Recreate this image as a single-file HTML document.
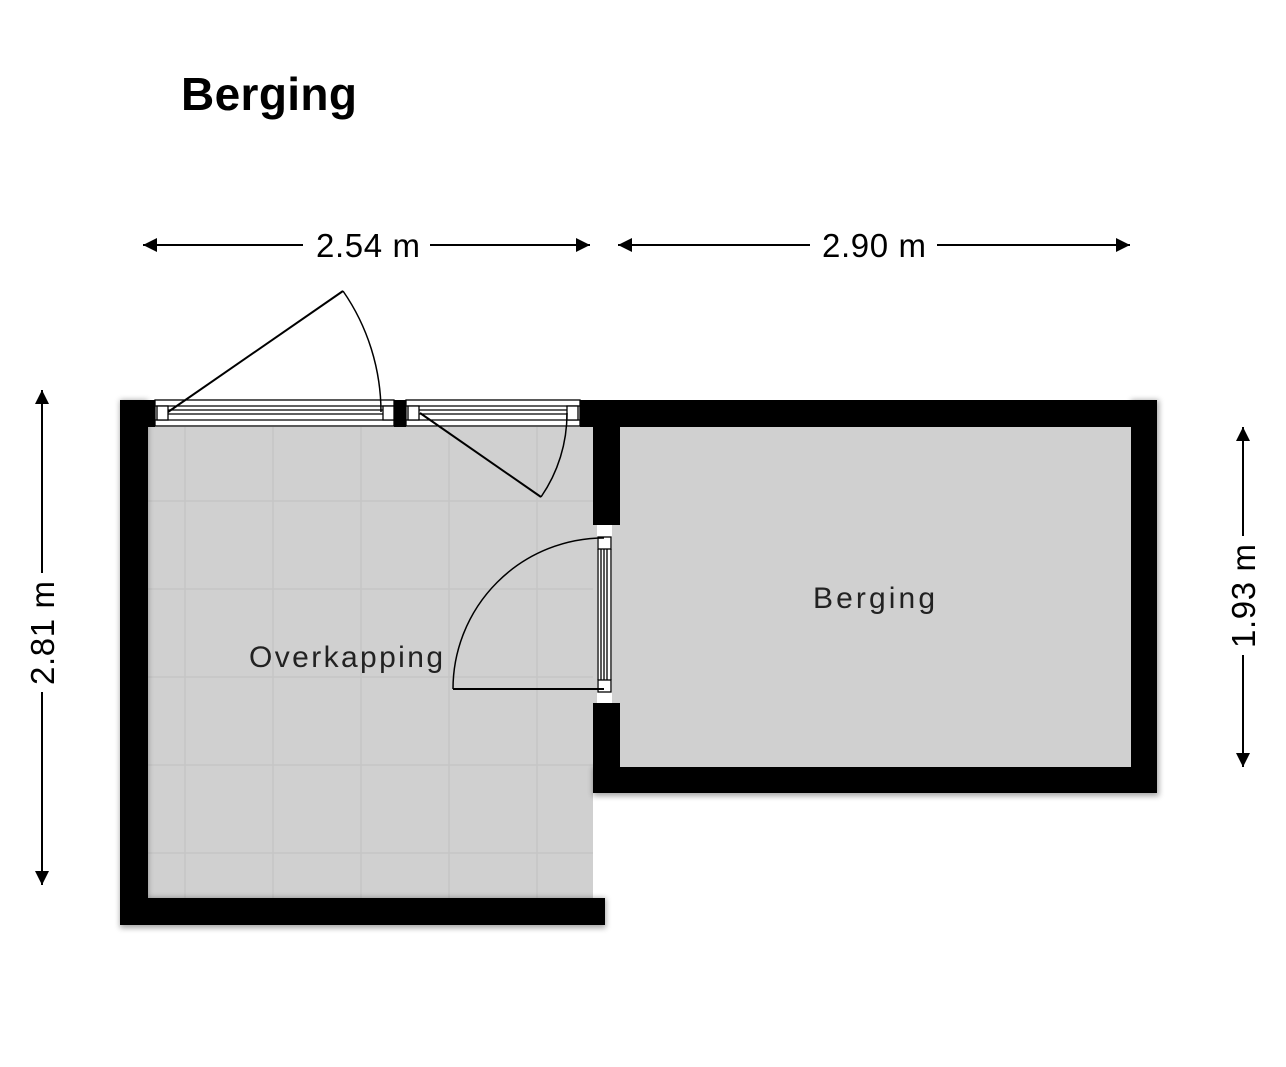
<!DOCTYPE html>
<html><head><meta charset="utf-8"><style>html,body{margin:0;padding:0;background:#fff}svg{display:block}</style></head>
<body>
<svg width="1286" height="1067" viewBox="0 0 1286 1067" xmlns="http://www.w3.org/2000/svg" font-family="Liberation Sans, sans-serif">
<defs>
<marker id="a" viewBox="0 0 10 10" refX="10" refY="5" markerWidth="9" markerHeight="7" orient="auto-start-reverse"><path d="M0,0 L10,5 L0,10z" fill="#000"/></marker>
<filter id="sh" x="-5%" y="-5%" width="110%" height="110%"><feGaussianBlur stdDeviation="3"/></filter>
</defs>
<rect width="1286" height="1067" fill="#fff"/>
<text x="181" y="110" font-size="46" font-weight="bold" textLength="176">Berging</text>

<g stroke="#000" stroke-width="2">
<line x1="143" y1="245" x2="303" y2="245" marker-start="url(#a)"/>
<line x1="430" y1="245" x2="590" y2="245" marker-end="url(#a)"/>
<line x1="618" y1="245" x2="810" y2="245" marker-start="url(#a)"/>
<line x1="937" y1="245" x2="1130" y2="245" marker-end="url(#a)"/>
<line x1="42" y1="390" x2="42" y2="573" marker-start="url(#a)"/>
<line x1="42" y1="692" x2="42" y2="885" marker-end="url(#a)"/>
<line x1="1243" y1="427" x2="1243" y2="536" marker-start="url(#a)"/>
<line x1="1243" y1="655" x2="1243" y2="767" marker-end="url(#a)"/>
</g>
<g font-size="33" fill="#000">
<text x="368" y="257" text-anchor="middle" textLength="104">2.54 m</text>
<text x="874" y="257" text-anchor="middle" textLength="104">2.90 m</text>
<text transform="translate(54,633) rotate(-90)" text-anchor="middle" textLength="104">2.81 m</text>
<text transform="translate(1255,596) rotate(-90)" text-anchor="middle" textLength="104">1.93 m</text>
</g>

<rect x="148" y="427" width="445" height="471" fill="#d0d0d0"/>
<g stroke="#c6c6c6" stroke-width="1.5" fill="none">
<line x1="185" y1="427" x2="185" y2="898"/><line x1="273" y1="427" x2="273" y2="898"/>
<line x1="361" y1="427" x2="361" y2="898"/><line x1="449" y1="427" x2="449" y2="898"/>
<line x1="537" y1="427" x2="537" y2="898"/>
<line x1="148" y1="501" x2="593" y2="501"/><line x1="148" y1="589" x2="593" y2="589"/>
<line x1="148" y1="677" x2="593" y2="677"/><line x1="148" y1="765" x2="593" y2="765"/>
<line x1="148" y1="853" x2="593" y2="853"/>
</g>

<g filter="url(#sh)" opacity="0.35" fill="#000">
<rect x="120" y="400" width="28" height="528"/><rect x="120" y="898" width="486" height="30"/>
<rect x="593" y="767" width="566" height="29"/><rect x="1131" y="400" width="28" height="396"/>
</g>
<rect x="612" y="427" width="519" height="340" fill="#d0d0d0"/>
<rect x="593" y="525" width="4" height="178" fill="#d0d0d0"/>
<g fill="#000">
<rect x="120" y="400" width="28" height="525"/>
<rect x="120" y="898" width="485" height="27"/>
<rect x="120" y="400" width="35" height="27"/>
<rect x="394" y="400" width="12" height="27"/>
<rect x="580" y="400" width="577" height="27"/>
<rect x="593" y="400" width="27" height="125"/>
<rect x="593" y="703" width="27" height="90"/>
<rect x="593" y="767" width="564" height="26"/>
<rect x="1131" y="400" width="26" height="393"/>
</g>
<g stroke="#000" stroke-width="1.3" fill="#fff">
<rect x="155" y="400" width="239" height="26"/>
<rect x="406" y="400" width="174" height="26"/>
<line x1="155" y1="406" x2="394" y2="406"/><line x1="155" y1="420" x2="394" y2="420"/>
<line x1="406" y1="406" x2="580" y2="406"/><line x1="406" y1="420" x2="580" y2="420"/>
<line x1="168" y1="410" x2="383" y2="410"/><line x1="168" y1="414" x2="383" y2="414"/>
<line x1="419" y1="410" x2="567" y2="410"/><line x1="419" y1="414" x2="567" y2="414"/>
<rect x="157" y="406" width="11" height="14"/><rect x="383" y="406" width="11" height="14"/>
<rect x="408" y="406" width="11" height="14"/><rect x="567" y="406" width="11" height="14"/>
<rect x="597" y="525" width="15" height="178" stroke="none"/>
<rect x="598" y="537" width="13" height="12"/><rect x="598" y="680" width="13" height="12"/>
<line x1="598" y1="549" x2="598" y2="680"/><line x1="601" y1="549" x2="601" y2="680"/><line x1="604" y1="549" x2="604" y2="680"/><line x1="607" y1="549" x2="607" y2="680"/><line x1="611" y1="549" x2="611" y2="680"/>
</g>
<g stroke="#000" stroke-width="2" fill="none">
<line x1="168" y1="412" x2="343" y2="291"/>
<path d="M343,291 A213,213 0 0 1 381,412" stroke-width="1.5"/>
<line x1="420" y1="413" x2="541" y2="497"/>
<path d="M541,497 A147,147 0 0 0 567,413" stroke-width="1.5"/>
<line x1="453" y1="689" x2="604" y2="689"/>
<path d="M453,689 A151,151 0 0 1 604,538" stroke-width="1.5"/>
</g>
<g font-size="30" fill="#222" letter-spacing="1">
<text x="249" y="667" textLength="195">Overkapping</text>
<text x="813" y="608" textLength="123">Berging</text>
</g>
</svg>
</body></html>
